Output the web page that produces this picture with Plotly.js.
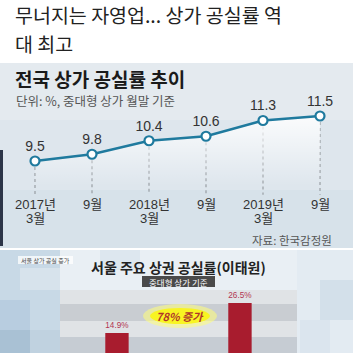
<!DOCTYPE html>
<html><head><meta charset="utf-8">
<script src="https://cdn.plot.ly/plotly-3.0.1.min.js"></script>
<style>html,body{margin:0;padding:0;background:#fff}#chart{width:353px;height:353px}</style>
</head><body><div id="chart"></div>
<script>
// ---- data ----
const periods = ['2017년 3월', '2017년 9월', '2018년 3월', '2018년 9월', '2019년 3월', '2019년 9월'];
const vacancyRates = [9.5, 9.8, 10.4, 10.6, 11.3, 11.5];
const tickRow1 = ['2017년', '9월', '2018년', '9월', '2019년', '9월'];
const tickRow2 = ['3월', '', '3월', '', '3월', ''];
const itaewonCats = ['이전', '이후'];
const itaewonRates = [14.9, 26.5];
const mainTitle1 = '무너지는 자영업... 상가 공실률 역';
const mainTitle2 = '대 최고';
const lineTitle = '전국 상가 공실률 추이';
const lineSub = '단위: %, 중대형 상가 월말 기준';
const sourceText = '자료: 한국감정원';
const barTitle = '서울 주요 상권 공실률(이태원)';
const barSub = '중대형 상가 기준';
const tagText = '서울 상가 공실 증가';
const growthText = '78% 증가';

// ---- helpers ----
const W = 353, H = 353;
const KR = 'Noto Sans CJK KR';
const NUM = 'Liberation Sans, Noto Sans CJK KR';
function fx(p){return p/W;}
function fy(p){return (H-p)/H;}
function rect(x0,y0,x1,y1,color){
  return {type:'rect',xref:'paper',yref:'paper',x0:fx(x0),x1:fx(x1),y0:fy(y1),y1:fy(y0),
    fillcolor:color,line:{width:0},layer:'below'};
}
const dropBase = 8.0;

// dotted drop lines built from data
const dropX = [], dropY = [];
periods.forEach((p,i)=>{dropX.push(p,p,null);dropY.push(vacancyRates[i],dropBase,null);});

const traces = [
  {x:dropX,y:dropY,xaxis:'x',yaxis:'y',mode:'lines',line:{color:'#8a8f94',width:1,dash:'dot'},hoverinfo:'skip',showlegend:false},
  {x:periods,y:vacancyRates,xaxis:'x',yaxis:'y',mode:'lines+markers+text',
   text:vacancyRates.map(v=>v.toFixed(1)),textposition:'top center',
   textfont:{family:NUM,size:14,color:'#333'},
   line:{color:'#1f7a9e',width:2.6},
   marker:{symbol:'circle',size:9,color:'#ffffff',line:{color:'#1f7a9e',width:2.2}},
   fill:'tozeroy',
   fillgradient:{type:'vertical',start:8.4,stop:11.6,colorscale:[[0,'rgba(255,255,255,0)'],[1,'rgba(255,255,255,0.9)']]},
   cliponaxis:false,showlegend:false},
  {x:itaewonCats,y:itaewonRates,xaxis:'x2',yaxis:'y2',type:'bar',width:0.19,
   marker:{color:'#a81c2e'},text:itaewonRates.map(v=>v.toFixed(1)+'%'),textposition:'outside',
   textfont:{family:NUM,size:10,color:'#b23552'},cliponaxis:false,showlegend:false}
];

const shapes = [
  // line panel background
  rect(0,63,353,120,'#e4eaef'),
  rect(0,120,353,190,'#dee6ed'),
  rect(0,190,353,248,'#d7e2ea'),
  rect(0,150,3,246,'#2c3548'),
  // bar section mosaic
  rect(0,250,353,353,'#dfe7ee'),
  rect(0,250,60,353,'#c8d9e6'),
  rect(20,268,60,290,'#d7e3ec'),
  rect(0,300,30,330,'#b8cde0'),
  rect(30,330,60,353,'#c0d2e0'),
  rect(0,330,30,353,'#a9c1d4'),
  rect(60,250,297,290,'#e9eff4'),
  rect(100,250,140,270,'#dde7ef'),
  rect(297,250,353,353,'#e3ebf2'),
  rect(320,280,353,320,'#d3e0ea'),
  rect(300,320,330,353,'#dbe5ee'),
  rect(60,290,297,353,'#e0e3e6'),
  rect(60,304,297,321,'#c9cdd2'),
  rect(60,337,297,353,'#c6ccd3'),
  // tag + subtitle boxes
  rect(18,256,73,264,'rgba(255,255,255,0.75)'),
  rect(142,276,215,287,'#4a4a4a'),
  // glow
  {type:'circle',xref:'paper',yref:'paper',x0:fx(143),x1:fx(217),y0:fy(328),y1:fy(304),fillcolor:'rgba(255,255,120,0.55)',line:{width:0},layer:'below'},
  {type:'circle',xref:'paper',yref:'paper',x0:fx(150),x1:fx(210),y0:fy(324),y1:fy(308),fillcolor:'rgba(250,245,20,0.9)',line:{width:0},layer:'below'}
];

const annotations = [
  {text:mainTitle1,xref:'paper',yref:'paper',x:fx(14),y:fy(14.5),xanchor:'left',yanchor:'middle',showarrow:false,borderpad:0,font:{family:KR,size:19.5,color:'#222'}},
  {text:mainTitle2,xref:'paper',yref:'paper',x:fx(14),y:fy(43),xanchor:'left',yanchor:'middle',showarrow:false,borderpad:0,font:{family:KR,size:19.5,color:'#222'}},
  {text:'<b>'+lineTitle+'</b>',xref:'paper',yref:'paper',x:fx(14),y:fy(78),xanchor:'left',yanchor:'middle',showarrow:false,borderpad:0,font:{family:KR,size:19,color:'#1a1a1a'}},
  {text:lineSub,xref:'paper',yref:'paper',x:fx(15),y:fy(100.5),xanchor:'left',yanchor:'middle',showarrow:false,borderpad:0,font:{family:KR,size:12.5,color:'#555'}},
  {text:sourceText,xref:'paper',yref:'paper',x:fx(334),y:fy(240),xanchor:'right',yanchor:'middle',showarrow:false,font:{family:KR,size:11.5,color:'#555'}},
  {text:'<b>'+barTitle+'</b>',xref:'paper',yref:'paper',x:fx(178),y:fy(266.5),xanchor:'center',yanchor:'middle',showarrow:false,borderpad:0,font:{family:KR,size:14,color:'#222'}},
  {text:barSub,xref:'paper',yref:'paper',x:fx(178.5),y:fy(281.5),xanchor:'center',yanchor:'middle',showarrow:false,borderpad:0,font:{family:KR,size:8.5,color:'#fff'}},
  {text:tagText,xref:'paper',yref:'paper',x:fx(45.5),y:fy(260),xanchor:'center',yanchor:'middle',showarrow:false,font:{family:KR,size:6,color:'#444'}},
  {text:'<b><i>'+growthText+'</i></b>',xref:'paper',yref:'paper',x:fx(180),y:fy(316),xanchor:'center',yanchor:'middle',showarrow:false,font:{family:KR,size:11,color:'#b0362a'}}
];
periods.forEach((p,i)=>{
  annotations.push({text:tickRow1[i],xref:'x',yref:'paper',x:p,y:fy(205),xanchor:'center',yanchor:'middle',showarrow:false,font:{family:NUM,size:13,color:'#333'}});
  if(tickRow2[i]) annotations.push({text:tickRow2[i],xref:'x',yref:'paper',x:p,y:fy(218),xanchor:'center',yanchor:'middle',showarrow:false,font:{family:NUM,size:13,color:'#333'}});
});

const hidden = {showticklabels:false,showgrid:false,zeroline:false,showline:false,ticks:'',fixedrange:true};
const layout = {
  width:W,height:H,margin:{l:0,r:0,t:0,b:0},paper_bgcolor:'#ffffff',plot_bgcolor:'rgba(0,0,0,0)',
  showlegend:false,
  xaxis:Object.assign({type:'category',domain:[0,1],range:[-0.614,5.579],anchor:'y'},hidden),
  yaxis:Object.assign({domain:[fy(198),fy(63)],range:[7.856,13.856],anchor:'x'},hidden),
  xaxis2:Object.assign({type:'category',domain:[0,1],range:[-0.951,1.919],anchor:'y2'},hidden),
  yaxis2:Object.assign({domain:[0,fy(250)],range:[7.15,47.0],anchor:'x2'},hidden),
  shapes:shapes,annotations:annotations
};
Plotly.newPlot('chart',traces,layout,{staticPlot:true,displayModeBar:false});
</script></body></html>
